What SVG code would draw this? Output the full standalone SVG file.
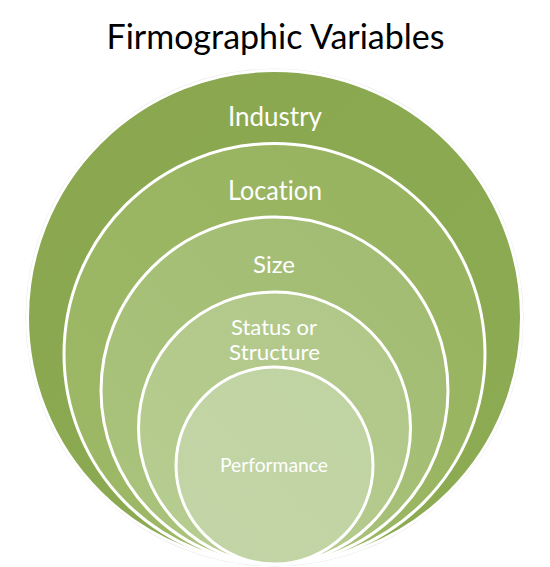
<svg xmlns="http://www.w3.org/2000/svg" width="550" height="567" viewBox="0 0 550 567">
  <style>
    .ring { stroke: #ffffff; stroke-width: 3; }
    .lbl { font-family: Lato, "Open Sans", "Liberation Sans", sans-serif; fill: #ffffff; text-anchor: middle; font-variant-ligatures: none; font-feature-settings: "liga" 0, "clig" 0; }
    .title { font-family: Lato, "Open Sans", "Liberation Sans", sans-serif; fill: #000000; text-anchor: middle; font-size: 34px; font-variant-ligatures: none; }
  </style>
  <defs>
    <linearGradient id="g1" x1="0" y1="0" x2="1" y2="1">
      <stop offset="0" stop-color="#8aa74f"/>
      <stop offset="1" stop-color="#8cab52"/>
    </linearGradient>
    <linearGradient id="g2" x1="1" y1="0" x2="0" y2="1">
      <stop offset="0" stop-color="#97b35f"/>
      <stop offset="1" stop-color="#9db967"/>
    </linearGradient>
    <linearGradient id="g3" x1="1" y1="0" x2="0" y2="1">
      <stop offset="0" stop-color="#a2bb72"/>
      <stop offset="1" stop-color="#abc47d"/>
    </linearGradient>
    <linearGradient id="g4" x1="1" y1="0" x2="0" y2="1">
      <stop offset="0" stop-color="#b0c788"/>
      <stop offset="1" stop-color="#b7cd91"/>
    </linearGradient>
    <linearGradient id="g5" x1="1" y1="0" x2="0" y2="1">
      <stop offset="0" stop-color="#c0d3a2"/>
      <stop offset="1" stop-color="#c3d5a6"/>
    </linearGradient>
  </defs>

  <text class="title" x="275.5" y="49" textLength="338" lengthAdjust="spacingAndGlyphs">Firmographic Variables</text>

  <g id="industry">
    <circle cx="274.5" cy="317.5" r="248.5" fill="none" stroke="#e4e4e4" stroke-width="1"/>
    <circle class="ring" cx="274.5" cy="317.5" r="247" fill="url(#g1)"/>
    <text class="lbl" x="275" y="126" font-size="26" textLength="94" lengthAdjust="spacingAndGlyphs">Industry</text>
  </g>
  <g id="location">
    <circle class="ring" cx="274.5" cy="354" r="210.5" fill="url(#g2)"/>
    <text class="lbl" x="275" y="200" font-size="26" textLength="94" lengthAdjust="spacingAndGlyphs">Location</text>
  </g>
  <g id="size">
    <circle class="ring" cx="274.5" cy="390.5" r="173.5" fill="url(#g3)"/>
    <text class="lbl" x="274" y="273" font-size="24" textLength="42" lengthAdjust="spacingAndGlyphs">Size</text>
  </g>
  <g id="status-or-structure">
    <circle class="ring" cx="274.5" cy="428" r="136" fill="url(#g4)"/>
    <text class="lbl" x="274" y="335" font-size="22" textLength="86" lengthAdjust="spacingAndGlyphs">Status or</text>
    <text class="lbl" x="274.5" y="360" font-size="22" textLength="91" lengthAdjust="spacingAndGlyphs">Structure</text>
  </g>
  <g id="performance">
    <circle class="ring" cx="274.5" cy="465.5" r="98.5" fill="url(#g5)"/>
    <text class="lbl" x="274" y="472" font-size="19" textLength="108" lengthAdjust="spacingAndGlyphs">Performance</text>
  </g>
</svg>
